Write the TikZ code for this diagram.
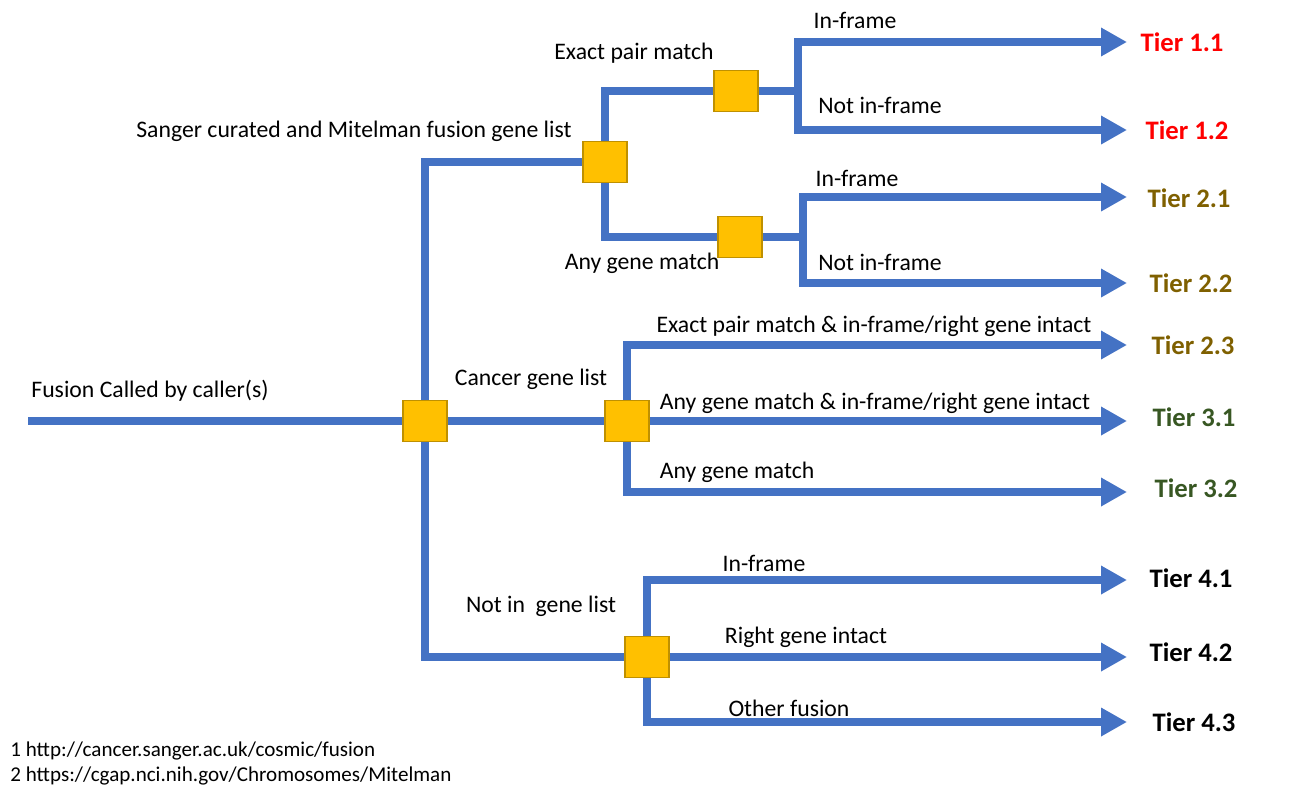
\documentclass[tikz,border=0pt]{standalone}
\usepackage{fontspec}
\setmainfont{Carlito}
\usepackage{xcolor}
\usepackage{tikz}
\usetikzlibrary{arrows.meta, positioning, calc}
\definecolor{flowcol}{RGB}{68,114,196}
\definecolor{gatecol}{RGB}{255,192,0}
\definecolor{gateedge}{RGB}{191,144,0}
\definecolor{tieronecol}{RGB}{255,0,0}
\definecolor{tiertwocol}{RGB}{127,96,0}
\definecolor{tierthreecol}{RGB}{56,87,35}

\begin{document}
\begin{tikzpicture}[
  x=0.02cm, y=-0.02cm,
  font=\fontsize{13.5}{16}\selectfont,
  gate/.style={draw=gateedge, fill=gatecol, line width=0.7pt,
               minimum width=0.88cm, minimum height=0.82cm, inner sep=0pt},
  link/.style={draw=flowcol, line width=0.16cm, line join=miter},
  toward/.style={link, -{Triangle[length=0.52cm, width=0.54cm]}},
  tier/.style={font=\fontsize{15.2}{18}\selectfont\bfseries},
  branch/.style={inner sep=0pt},
  note/.style={font=\fontsize{12}{14}\selectfont, anchor=west, inner sep=0pt}
]
  \useasboundingbox (0,0) rectangle (1314,798);

  % decision boxes
  \node[gate] (groot) at (425,421) {};
  \node[gate] (gsanger) at (605,162) {};
  \node[gate] (gexact) at (736,91) {};
  \node[gate] (gany) at (740,237) {};
  \node[gate] (gcancer) at (627,421) {};
  \node[gate] (gnot) at (647,657) {};

  % free ends and split points
  \coordinate (start) at (28,421);
  \coordinate (jexact) at (798,91);
  \coordinate (jany) at (803,237);
  \coordinate (e11) at (1127,42);
  \coordinate (e12) at (1127,130);
  \coordinate (e21) at (1127,197);
  \coordinate (e22) at (1127,283);
  \coordinate (e23) at (1127,345);
  \coordinate (e31) at (1127,421);
  \coordinate (e32) at (1127,492);
  \coordinate (e41) at (1127,580);
  \coordinate (e42) at (1127,657);
  \coordinate (e43) at (1127,722);

  % tiers
  \node[tier, text=tieronecol] (t11) at (1182,42) {Tier 1.1};
  \node[tier, text=tieronecol] (t12) at (1187,130) {Tier 1.2};
  \node[tier, text=tiertwocol] (t21) at (1189,198) {Tier 2.1};
  \node[tier, text=tiertwocol] (t22) at (1191,283) {Tier 2.2};
  \node[tier, text=tiertwocol] (t23) at (1193,345) {Tier 2.3};
  \node[tier, text=tierthreecol] (t31) at (1194,417) {Tier 3.1};
  \node[tier, text=tierthreecol] (t32) at (1196,488) {Tier 3.2};
  \node[tier] (t41) at (1191,578) {Tier 4.1};
  \node[tier] (t42) at (1191,652) {Tier 4.2};
  \node[tier] (t43) at (1194,722) {Tier 4.3};

  % connectors
  \draw[link] (start) -- (groot);
  \draw[link] (groot) |- (gsanger);
  \draw[link] (groot) -- (gcancer);
  \draw[link] (groot) |- (gnot);
  \draw[link] (gsanger) |- (gexact);
  \draw[link] (gsanger) |- (gany);
  \draw[link] (gexact) -- (jexact);
  \draw[link] (gany) -- (jany);
  \draw[toward] (jexact) |- (e11);
  \draw[toward] (jexact) |- (e12);
  \draw[toward] (jany) |- (e21);
  \draw[toward] (jany) |- (e22);
  \draw[toward] (gcancer) |- (e23);
  \draw[toward] (gcancer) -- (e31);
  \draw[toward] (gcancer) |- (e32);
  \draw[toward] (gnot) |- (e41);
  \draw[toward] (gnot) -- (e42);
  \draw[toward] (gnot) |- (e43);

  % branch labels
  \node[branch] (lcaller) at (150,391) {Fusion Called by caller(s)};
  \node[branch] (lsanger) at (354,131) {Sanger curated and Mitelman fusion gene list};
  \node[branch] (lexact) at (634,53) {Exact pair match};
  \node[branch] (lany) at (642,263) {Any gene match};
  \node[branch] (lif1) at (855,20) {In-frame};
  \node[branch] (lnif1) at (880,105) {Not in-frame};
  \node[branch] (lif2) at (857,178) {In-frame};
  \node[branch] (lnif2) at (880,262) {Not in-frame};
  \node[branch] (lcancer) at (531,379) {Cancer gene list};
  \node[branch] (lexif) at (874,326) {Exact pair match \& in-frame/right gene intact};
  \node[branch] (lanyif) at (875,403) {Any gene match \& in-frame/right gene intact};
  \node[branch] (lanyc) at (737,472) {Any gene match};
  \node[branch] (lnotin) at (541,606) {Not in\ \ gene list};
  \node[branch] (lif4) at (764,563) {In-frame};
  \node[branch] (lright) at (806,637) {Right gene intact};
  \node[branch] (lother) at (789,708) {Other fusion};

  \node[note] (ref1) at (10,751) {1 http://cancer.sanger.ac.uk/cosmic/fusion};
  \node[note] (ref2) at (10,776) {2 https://cgap.nci.nih.gov/Chromosomes/Mitelman};
\end{tikzpicture}
\end{document}
